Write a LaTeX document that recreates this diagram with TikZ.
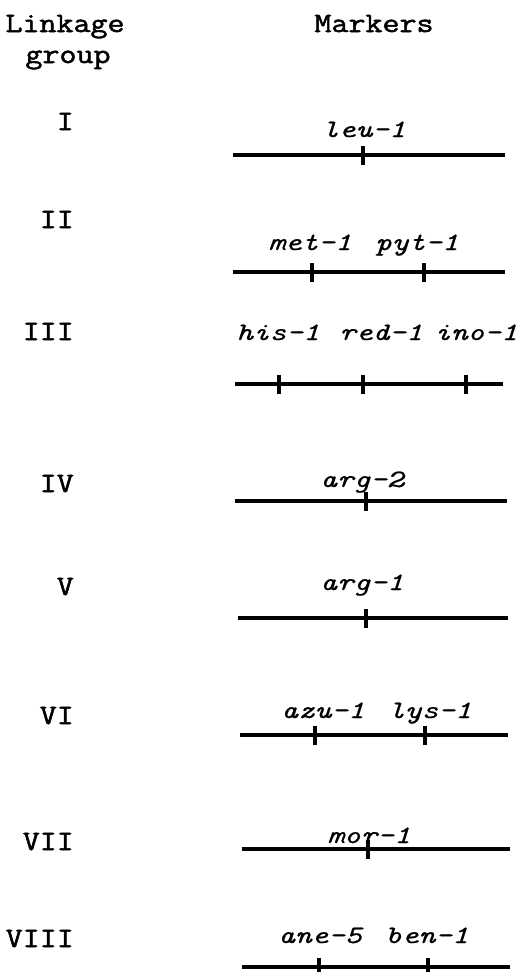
\documentclass[tikz,border=0pt]{standalone}
\usepackage{fontspec}
\newfontfamily\labfont[FakeStretch=1.18,FakeBold=1.8]{Latin Modern Mono}
\newfontfamily\genefont[FakeStretch=1.27,FakeBold=0.6]{Latin Modern Mono}
\tikzset{
  lab/.style={font=\labfont\fontsize{28}{32}\selectfont, anchor=base east, inner sep=0pt},
  head/.style={font=\labfont\fontsize{28}{32}\selectfont, anchor=base, inner sep=0pt},
  gene/.style={font=\genefont\itshape\fontsize{25}{30}\selectfont, anchor=base, inner sep=0pt},
  chrom/.style={line width=3.2pt},
  locus/.style={line width=3.4pt}
}
\newcommand{\locusat}[2]{\draw[locus] (#1,#2-9) -- (#1,#2+10);}
\begin{document}
\begin{tikzpicture}[x=1pt,y=-1pt]
\useasboundingbox (0,0) rectangle (518,972);
% headers
\node[head] (hlink) at (65,32) {Linkage};
\node[head] (hgroup) at (68,63) {group};
\node[head] (hmark) at (374,32) {Markers};
% I
\node[lab] (l1) at (74,130) {I};
\node[gene] (leu) at (364,137) {leu-1};
\coordinate (a1) at (233,155); \coordinate (b1) at (505,155);
\draw[chrom] (a1) -- (b1);
\locusat{363}{155}
% II
\node[lab] (l2) at (74,228) {II};
\node[gene] (met) at (310,250) {met-1};
\node[gene] (pyt) at (417,250) {pyt-1};
\coordinate (a2) at (233,272); \coordinate (b2) at (505,272);
\draw[chrom] (a2) -- (b2);
\locusat{312}{272}\locusat{424}{272}
% III
\node[lab] (l3) at (74,340) {III};
\node[gene] (his) at (278,340) {his-1};
\node[gene] (red) at (381,340) {red-1};
\node[gene] (ino) at (476,340) {ino-1};
\coordinate (a3) at (235,384); \coordinate (b3) at (503,384);
\draw[chrom] (a3) -- (b3);
\locusat{279}{384}\locusat{363}{384}\locusat{466}{384}
% IV
\node[lab] (l4) at (74,492) {IV};
\node[gene] (arg2) at (362,487) {arg-2};
\coordinate (a4) at (235,501); \coordinate (b4) at (507,501);
\draw[chrom] (a4) -- (b4);
\locusat{366}{501}
% V
\node[lab] (l5) at (74,595) {V};
\node[gene] (arg1) at (362,590) {arg-1};
\coordinate (a5) at (238,618); \coordinate (b5) at (508,618);
\draw[chrom] (a5) -- (b5);
\locusat{366}{618}
% VI
\node[lab] (l6) at (74,724) {VI};
\node[gene] (azu) at (323,718) {azu-1};
\node[gene] (lys) at (430,718) {lys-1};
\coordinate (a6) at (240,735); \coordinate (b6) at (508,735);
\draw[chrom] (a6) -- (b6);
\locusat{315}{735}\locusat{425}{735}
% VII
\node[lab] (l7) at (74,850) {VII};
\node[gene] (mor) at (369,843) {mor-1};
\coordinate (a7) at (242,849); \coordinate (b7) at (510,849);
\draw[chrom] (a7) -- (b7);
\locusat{368}{849}
% VIII
\node[lab] (l8) at (74,947) {VIII};
\node[gene] (ane) at (320,943) {ane-5};
\node[gene] (ben) at (427,943) {ben-1};
\coordinate (a8) at (242,967); \coordinate (b8) at (510,967);
\draw[chrom] (a8) -- (b8);
\locusat{319}{967}\locusat{428}{967}
\end{tikzpicture}
\end{document}
